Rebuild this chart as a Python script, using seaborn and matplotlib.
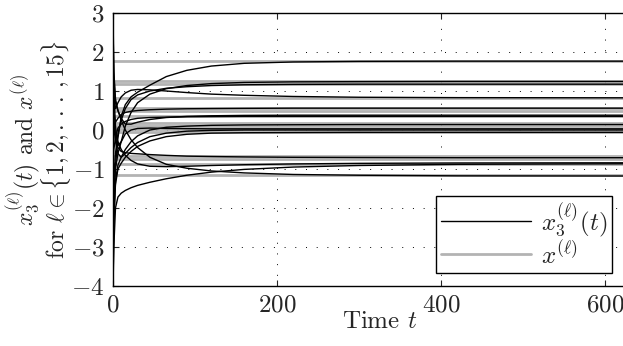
import numpy as np
import pandas as pd
import matplotlib
matplotlib.use("Agg")
import matplotlib.pyplot as plt
import seaborn as sns
from matplotlib.lines import Line2D

# ---- data ----
times = [0, 1, 3, 6, 10, 15, 22, 30, 45, 65, 90, 120, 160, 220, 300, 420, 650]

trajectories = {
    1:  [-3.0, -1.8, -0.9, -0.2, 0.35, 0.65, 0.85, 0.97, 1.15, 1.37, 1.53, 1.64, 1.71, 1.745, 1.76, 1.765, 1.765],
    2:  [2.2, 1.0, 0.1, -0.4, -0.3, 0.1, 0.45, 0.7, 0.92, 1.06, 1.14, 1.19, 1.22, 1.235, 1.24, 1.245, 1.245],
    3:  [-2.0, -1.2, -0.6, -0.1, 0.25, 0.55, 0.78, 0.9, 1.0, 1.07, 1.11, 1.14, 1.16, 1.17, 1.175, 1.175, 1.175],
    4:  [1.5, 0.9, 0.55, 0.7, 0.85, 0.95, 1.02, 1.04, 1.03, 1.0, 0.96, 0.92, 0.89, 0.86, 0.84, 0.83, 0.825],
    5:  [0.8, 0.4, 0.2, 0.3, 0.4, 0.45, 0.48, 0.5, 0.52, 0.535, 0.545, 0.55, 0.555, 0.56, 0.56, 0.56, 0.56],
    6:  [3.0, 1.4, 0.7, 0.5, 0.3, 0.15, 0.15, 0.2, 0.27, 0.32, 0.35, 0.365, 0.375, 0.38, 0.38, 0.38, 0.38],
    7:  [-1.0, -0.5, -0.2, 0.05, 0.15, 0.22, 0.27, 0.3, 0.32, 0.33, 0.34, 0.345, 0.35, 0.35, 0.35, 0.35, 0.35],
    8:  [-4.0, -2.5, -1.3, -0.9, -0.7, -0.5, -0.3, -0.15, 0.0, 0.07, 0.1, 0.12, 0.13, 0.135, 0.14, 0.14, 0.14],
    9:  [0.3, 0.1, -0.3, -0.6, -0.7, -0.6, -0.45, -0.32, -0.17, -0.08, -0.03, -0.01, 0.0, 0.0, 0.0, 0.0, 0.0],
    10: [-3.5, -2.2, -1.4, -1.0, -0.85, -0.7, -0.55, -0.42, -0.28, -0.17, -0.11, -0.08, -0.07, -0.065, -0.06, -0.06, -0.06],
    11: [1.0, 0.3, -0.2, -0.45, -0.55, -0.58, -0.6, -0.61, -0.63, -0.65, -0.67, -0.68, -0.69, -0.70, -0.705, -0.71, -0.71],
    12: [-4.0, -3.0, -2.0, -1.72, -1.62, -1.55, -1.48, -1.42, -1.34, -1.25, -1.16, -1.08, -1.01, -0.95, -0.91, -0.88, -0.865],
    13: [2.6, 1.5, 0.8, 0.5, 0.25, 0.0, -0.25, -0.45, -0.7, -0.88, -0.98, -1.05, -1.10, -1.14, -1.16, -1.175, -1.18],
    14: [0.5, 0.2, -0.1, -0.3, -0.5, -0.65, -0.78, -0.87, -0.93, -0.94, -0.93, -0.91, -0.89, -0.87, -0.855, -0.845, -0.84],
    15: [-2.5, -1.6, -1.0, -0.6, -0.3, -0.1, 0.0, 0.04, 0.05, 0.04, 0.035, 0.03, 0.03, 0.03, 0.03, 0.03, 0.03],
}

targets = [1.77, 1.25, 1.18, 0.83, 0.57, 0.50, 0.37, 0.17, 0.10, 0.03, -0.05, -0.66, -0.75, -0.86, -1.15]
target_span = [0, 650]

x_ticks = [0, 200, 400, 600]
y_ticks = [-4, -3, -2, -1, 0, 1, 2, 3]

# ---- style ----
sns.set_theme(style="white")
plt.rcParams["font.family"] = ["cmr10", "DejaVu Serif"]
plt.rcParams["mathtext.fontset"] = "cm"
plt.rcParams["axes.formatter.use_mathtext"] = True
plt.rcParams["axes.unicode_minus"] = True

FS = 18

fig = plt.figure(figsize=(6.23, 3.46), dpi=100)
ax = fig.add_axes([0.1814, 0.1734, 0.8555, 0.789])

# long-form frames
traj_df = pd.DataFrame(
    [(a, t, v) for a, vals in trajectories.items() for t, v in zip(times, vals)],
    columns=["agent", "t", "value"],
)
targ_df = pd.DataFrame(
    [(i, t, v) for i, v in enumerate(targets) for t in target_span],
    columns=["agent", "t", "value"],
)

sns.lineplot(data=targ_df, x="t", y="value", units="agent", estimator=None,
             color="#b3b3b3", linewidth=2.0, ax=ax, legend=False, zorder=2)
sns.lineplot(data=traj_df, x="t", y="value", units="agent", estimator=None,
             color="black", linewidth=1.0, ax=ax, legend=False, zorder=3)

ax.set_xlim(0, 650)
ax.set_ylim(-4, 3)
ax.set_xticks(x_ticks)
ax.set_yticks(y_ticks)
ax.grid(True, color="black", linestyle=(0, (1, 10)), linewidth=0.7)
ax.set_axisbelow(True)
for s in ax.spines.values():
    s.set_color("black")
    s.set_linewidth(1.0)
ax.tick_params(direction="in", length=4, width=0.8, labelsize=FS,
               top=True, right=True, bottom=True, left=True, pad=6)

ax.set_xlabel(r"Time $t$", fontsize=FS, labelpad=-4)
ax.set_ylabel(r"$x_3^{(\ell)}(t)$ and $x^{(\ell)}$" + "\n"
              + r"for $\ell \in \{1, 2, .\,.\,.\,, 15\}$",
              fontsize=17, labelpad=-1, linespacing=0.85)

handles = [Line2D([], [], color="black", linewidth=1.0),
           Line2D([], [], color="#b3b3b3", linewidth=2.0)]
labels = [r"$x_3^{(\ell)}(t)$", r"$x^{(\ell)}$"]
leg = ax.legend(handles, labels, loc="lower right", bbox_to_anchor=(0.936, 0.0476),
                borderaxespad=0, fontsize=FS, handlelength=3.6, frameon=True,
                fancybox=False, framealpha=1, edgecolor="black",
                borderpad=0.2, labelspacing=0.05, handletextpad=0.4)
leg.get_frame().set_linewidth(1.0)
leg.set_zorder(5)

fig.savefig("out.png", dpi=100)
